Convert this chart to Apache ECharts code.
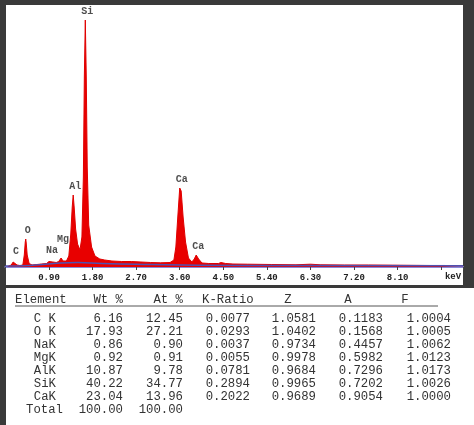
<!DOCTYPE html><html><head><meta charset="utf-8">
<script src="https://cdn.jsdelivr.net/npm/echarts@6/dist/echarts.min.js"></script>
<style>html,body{margin:0;padding:0;background:#3a3a3a}#c{width:474px;height:425px}</style></head><body><div id="c"></div>
<script>
const energy=[0.05,0.12,0.16,0.18,0.20,0.24,0.30,0.36,0.39,0.41,0.42,0.43,0.45,0.49,0.55,0.65,0.75,0.85,0.90,0.94,0.98,1.05,1.10,1.15,1.19,1.26,1.31,1.35,1.38,1.40,1.42,1.45,1.49,1.54,1.58,1.61,1.63,1.65,1.67,1.69,1.72,1.78,1.85,1.95,2.05,2.20,2.40,2.60,2.80,3.00,3.20,3.40,3.48,3.52,3.56,3.60,3.63,3.67,3.72,3.78,3.85,3.90,3.94,3.99,4.06,4.20,4.40,4.45,4.55,4.70,5.00,5.50,6.00,6.30,6.50,7.00,7.50,8.00,8.50,9.00,9.45];
const counts=[5,20,50,70,45,20,15,20,120,250,280,240,120,35,20,25,30,35,55,75,50,45,55,90,60,60,110,330,600,720,600,380,230,170,300,900,1900,2470,1900,1000,420,200,110,80,70,60,55,55,50,45,42,45,70,200,500,790,760,500,250,90,50,80,120,80,40,35,35,45,35,30,28,25,22,28,22,20,20,18,16,14,12];
const bgEnergy=[0,0.5,1.0,1.5,2.0,3.0,4.0,6.0,9.45];
const bgCounts=[10,15,35,45,35,25,18,14,12];
const peakNames=['C','O','Na','Mg','Al','Si','Ca','Ca'];
const peakE=[0.18,0.42,0.94,1.15,1.40,1.65,3.60,3.94];
const peakC=[70,280,75,90,720,2470,790,120];
const header=['Element','Wt %','At %','K-Ratio','Z','A','F'];
const elements=['C K','O K','NaK','MgK','AlK','SiK','CaK','Total'];
const wt=['6.16','17.93','0.86','0.92','10.87','40.22','23.04','100.00'];
const at=['12.45','27.21','0.90','0.91','9.78','34.77','13.96','100.00'];
const kr=['0.0077','0.0293','0.0037','0.0055','0.0781','0.2894','0.2022'];
const zz=['1.0581','1.0402','0.9734','0.9978','0.9684','0.9965','0.9689'];
const aa=['0.1183','0.1568','0.4457','0.5982','0.7296','0.7202','0.9054'];
const ff=['1.0004','1.0005','1.0062','1.0123','1.0173','1.0026','1.0000'];

const mono='"Liberation Mono","DejaVu Sans Mono",monospace';
const g=[
 {type:'rect',shape:{x:6,y:5,width:457,height:280},style:{fill:'#fff'},z:-10},
 {type:'rect',shape:{x:6,y:288,width:468,height:137},style:{fill:'#fff'},z:-10},
 {type:'text',x:453,y:277,style:{text:'keV',font:'bold 9px '+mono,fill:'#222',align:'center',verticalAlign:'middle'}},
 {type:'line',shape:{x1:15,y1:306,x2:438,y2:306},style:{stroke:'#555',lineWidth:1}}
];
const tf='12.3px '+mono;
function T(t,x,y,al){g.push({type:'text',x:x,y:y,style:{text:t,font:tf,fill:'#333',align:al,verticalAlign:'middle'}});}
T(header[0],15,300,'left');T(header[1],123,300,'right');T(header[2],183,300,'right');
T(header[3],202,300,'left');T(header[4],288,300,'center');T(header[5],348,300,'center');T(header[6],405,300,'center');
for(let i=0;i<elements.length;i++){
 const y=319+i*13;
 T(elements[i],i==7?63:56,y,'right');
 T(wt[i],123,y,'right');T(at[i],183,y,'right');
 if(i<7){T(kr[i],250,y,'right');T(zz[i],316,y,'right');T(aa[i],383,y,'right');T(ff[i],451,y,'right');}
}
const chart=echarts.init(document.getElementById('c'));
chart.setOption({
 animation:false,
 grid:{left:5.4,right:11,top:5,bottom:158},
 xAxis:{type:'value',min:0,max:9.45,interval:0.9,
  axisLine:{lineStyle:{color:'#8a8ad8',width:2}},
  axisTick:{show:true,length:3,lineStyle:{color:'#444'}},
  splitLine:{show:false},
  axisLabel:{margin:6,fontFamily:mono,fontWeight:'bold',fontSize:9,color:'#222',
   formatter:v=>(v>0.1&&v<8.5)?v.toFixed(2):''}},
 yAxis:{type:'value',min:0,max:2620,show:false},
 series:[
  {type:'line',data:energy.map((e,i)=>[e,counts[i]]),symbol:'none',
   lineStyle:{color:'#e00000',width:1},areaStyle:{color:'#e80000',opacity:1},z:2},
  {type:'line',data:bgEnergy.map((e,i)=>[e,bgCounts[i]]),symbol:'none',smooth:true,
   lineStyle:{color:'#5050b0',width:1.5},z:3},
  {type:'scatter',symbolSize:0,
   data:peakE.map((e,i)=>({value:[e,peakC[i]],name:peakNames[i],
     label:i==3?{offset:[2,-10]}:(i==2?{offset:[1,0]}:{offset:[2,0]})})),
   label:{show:true,position:'top',distance:4,formatter:p=>p.name,fontFamily:mono,fontWeight:'bold',fontSize:10,color:'#222'},z:4}
 ],
 graphic:g
});
</script></body></html>
